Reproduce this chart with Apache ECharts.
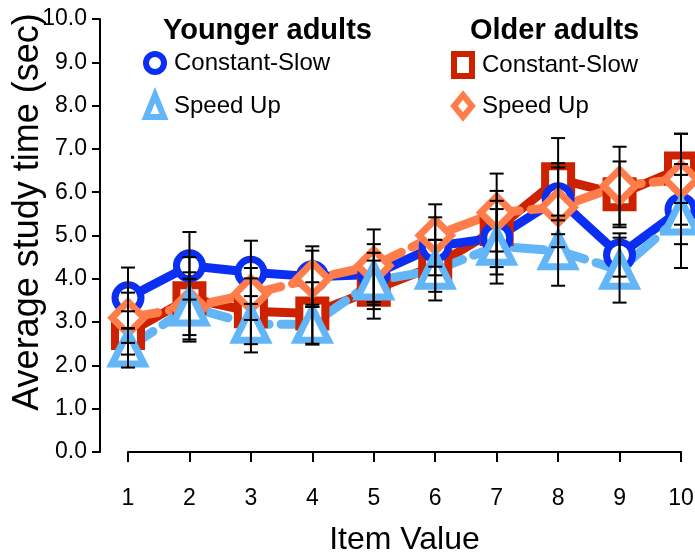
<!DOCTYPE html>
<html>
<head>
<meta charset="utf-8">
<script src="https://cdn.jsdelivr.net/npm/echarts@6/dist/echarts.min.js"></script>
<style>
  html, body { margin: 0; padding: 0; background: #fff; }
  #chart { width: 695px; height: 554px; }
</style>
</head>
<body>
<div id="chart"></div>
<script>
  var itemValues = [1, 2, 3, 4, 5, 6, 7, 8, 9, 10];
  var yTicks = [0, 1, 2, 3, 4, 5, 6, 7, 8, 9, 10];

  // 平均学习时间 (sec) 及误差
  var youngSlow = [3.56, 4.3, 4.15, 4.05, 4.1, 4.75, 4.95, 5.85, 4.55, 5.6];
  var youngSlowErr = [0.7, 0.78, 0.73, 0.7, 0.7, 0.67, 0.85, 0.82, 0.5, 0.8];
  var youngFast = [2.4, 3.35, 2.95, 2.95, 3.95, 4.2, 4.75, 4.65, 4.2, 5.45];
  var youngFastErr = [0.45, 0.8, 0.65, 0.45, 0.65, 0.7, 0.86, 0.81, 0.75, 1.2];
  var oldSlow = [2.75, 3.55, 3.25, 3.2, 3.75, 4.3, 5.15, 6.3, 5.95, 6.55];
  var oldSlowErr = [0.5, 0.95, 0.76, 0.72, 0.67, 0.6, 0.88, 0.95, 0.76, 0.8];
  var oldFast = [3.1, 3.35, 3.65, 4.0, 4.3, 5.0, 5.53, 5.65, 6.15, 6.3];
  var oldFastErr = [0.58, 0.65, 0.6, 0.65, 0.84, 0.72, 0.9, 0.92, 0.9, 1.05];

  var FONT = '"Liberation Sans", Arial, sans-serif';
  var cBlue = '#0a2ff2', cLight = '#62b6f8', cRed = '#cc2200', cOrange = '#ff7d4a';

  function pts(vals) {
    var out = [];
    for (var i = 0; i < itemValues.length; i++) out.push([itemValues[i], vals[i]]);
    return out;
  }
  function errData(vals, errs) {
    var out = [];
    for (var i = 0; i < itemValues.length; i++) out.push([itemValues[i], vals[i] - errs[i], vals[i] + errs[i]]);
    return out;
  }

  function lineSeries(name, vals, color, symbol, size, bw, dashed) {
    return {
      name: name,
      type: 'line',
      data: pts(vals),
      clip: false,
      symbol: symbol,
      symbolSize: size,
      itemStyle: { color: '#fff', borderColor: color, borderWidth: bw },
      lineStyle: { color: color, width: 9, type: dashed ? [30, 12] : 'solid', cap: 'round' },
      emphasis: { disabled: true },
      z: 2
    };
  }

  function errSeries(vals, errs) {
    return {
      type: 'custom',
      data: errData(vals, errs),
      clip: false,
      z: 5,
      renderItem: function (params, api) {
        var lo = api.coord([api.value(0), api.value(1)]);
        var hi = api.coord([api.value(0), api.value(2)]);
        var w = 7;
        var st = { stroke: '#000', lineWidth: 2 };
        return {
          type: 'group',
          children: [
            { type: 'line', shape: { x1: lo[0], y1: lo[1], x2: hi[0], y2: hi[1] }, style: st },
            { type: 'line', shape: { x1: lo[0] - w, y1: lo[1], x2: lo[0] + w, y2: lo[1] }, style: st },
            { type: 'line', shape: { x1: hi[0] - w, y1: hi[1], x2: hi[0] + w, y2: hi[1] }, style: st }
          ]
        };
      }
    };
  }

  function legendAt(name, left, top, icon, color) {
    return {
      data: [name],
      left: left,
      top: top,
      padding: 0,
      icon: icon,
      itemWidth: 18,
      itemHeight: 22,
      selectedMode: false,
      itemStyle: { color: '#fff', borderColor: color, borderWidth: 6 },
      formatter: function (n) { return n.replace(/^(Younger|Older) /, ''); },
      textStyle: { fontFamily: FONT, fontSize: 24, color: '#000', padding: [0, 0, 0, 5] }
    };
  }

  var myChart = echarts.init(document.getElementById('chart'));
  var option = {
    animation: false,
    grid: { left: 128, right: 14, top: 19, bottom: 102, outerBoundsMode: 'none', containLabel: false },
    xAxis: {
      type: 'value',
      min: 1, max: 10, interval: 1,
      offset: 16,
      name: 'Item Value',
      nameLocation: 'middle',
      nameGap: 56,
      nameTextStyle: { fontFamily: FONT, fontSize: 32, color: '#000' },
      axisLine: { lineStyle: { color: '#000', width: 2 } },
      axisTick: { length: 10, lineStyle: { color: '#000', width: 2 } },
      axisLabel: { margin: 19, fontFamily: FONT, fontSize: 23, color: '#000' },
      splitLine: { show: false }
    },
    yAxis: {
      type: 'value',
      min: 0, max: 10, interval: 1,
      offset: 28,
      axisLine: { show: true, lineStyle: { color: '#000', width: 2 } },
      axisTick: { show: true, length: 8, lineStyle: { color: '#000', width: 2 } },
      axisLabel: {
        margin: 13, fontFamily: FONT, fontSize: 23, color: '#000',
        formatter: function (v) { return yTicks.indexOf(v) >= 0 ? v.toFixed(1) : ''; }
      },
      splitLine: { show: false }
    },
    legend: [
      legendAt('Younger Constant-Slow', 143, 51, 'circle', cBlue),
      legendAt('Younger Speed Up', 143, 92, 'triangle', cLight),
      legendAt('Older Constant-Slow', 451, 51, 'rect', cRed),
      legendAt('Older Speed Up', 451, 92, 'diamond', cOrange)
    ],
    graphic: [
      { type: 'text', left: 163, top: 16, style: { text: 'Younger adults', font: 'bold 29px ' + FONT, fill: '#000' } },
      { type: 'text', left: 470, top: 16, style: { text: 'Older adults', font: 'bold 29px ' + FONT, fill: '#000' } },
      {
        type: 'text', x: 28, y: 212, rotation: Math.PI / 2,
        style: { text: 'Average study time (sec)', font: '36px ' + FONT, fill: '#000', align: 'center', verticalAlign: 'middle' }
      }
    ],
    series: [
      lineSeries('Older Constant-Slow', oldSlow, cRed, 'rect', 26, 8, false),
      lineSeries('Younger Constant-Slow', youngSlow, cBlue, 'circle', 26, 7, false),
      lineSeries('Older Speed Up', oldFast, cOrange, 'diamond', 32, 7, true),
      lineSeries('Younger Speed Up', youngFast, cLight, 'triangle', 32, 7, true),
      errSeries(oldSlow, oldSlowErr),
      errSeries(youngSlow, youngSlowErr),
      errSeries(oldFast, oldFastErr),
      errSeries(youngFast, youngFastErr)
    ]
  };
  myChart.setOption(option);
</script>
</body>
</html>
